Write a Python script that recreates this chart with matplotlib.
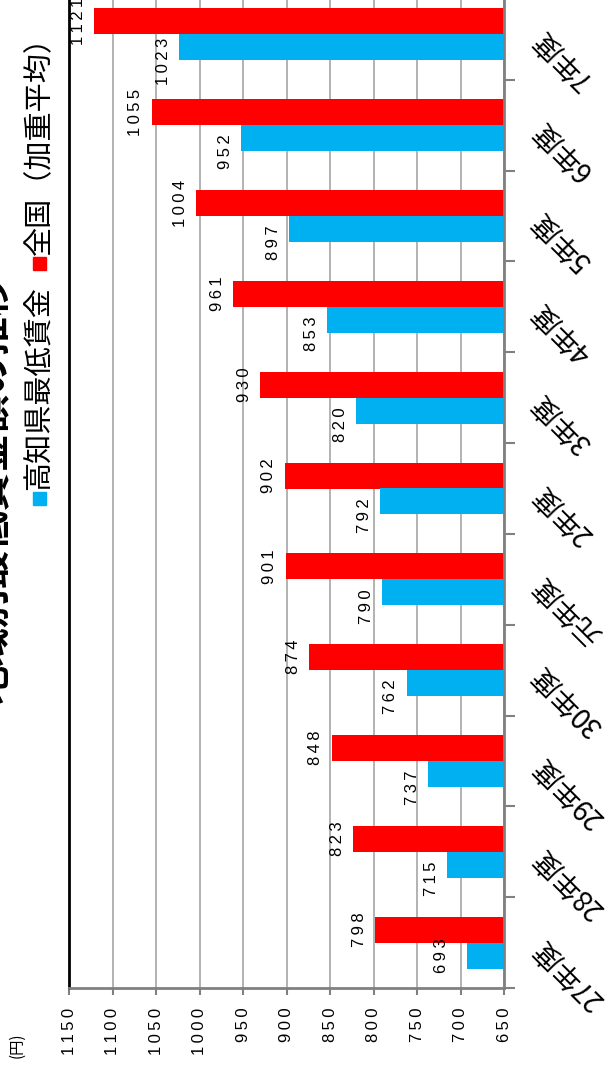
import matplotlib.pyplot as plt
from matplotlib.patches import Rectangle

plt.rcParams['font.family'] = ['Liberation Sans', 'Noto Sans CJK JP', 'DejaVu Sans']

# data
cats = ['27年度', '28年度', '29年度', '30年度', '元年度', '2年度', '3年度', '4年度', '5年度', '6年度', '7年度']
kochi = [693, 715, 737, 762, 790, 792, 820, 853, 897, 952, 1023]
zenkoku = [798, 823, 848, 874, 901, 902, 930, 961, 1004, 1055, 1121]
ticks = [650, 700, 750, 800, 850, 900, 950, 1000, 1050, 1100, 1150]
series_names = ['高知県最低賃金', '全国（加重平均）']
title = '地域別最低賃金額の推移'

RED = '#ff0000'
BLUE = '#00b0f0'
W, H = 612, 1076

def spaced(n):
    return '\u2009'.join(str(n))

fig = plt.figure(figsize=(W / 100, H / 100), dpi=100)
ax = fig.add_axes([69 / W, (H - 988) / H, (504 - 69) / W, (988 + 11) / H])

pos = list(range(len(cats)))
bh = 0.286
ax.barh([p + bh / 2 for p in pos], [v - 650 for v in zenkoku], left=650, height=bh, color=RED, zorder=2)
ax.barh([p - bh / 2 for p in pos], [v - 650 for v in kochi], left=650, height=bh, color=BLUE, zorder=2)

ax.set_xlim(1150, 650)
ax.set_ylim(-0.5, len(cats) - 0.5)
ax.set_xticks(ticks)
ax.set_xticklabels([spaced(t) for t in ticks], rotation=90, fontsize=12)
ax.tick_params(axis='x', length=5, width=1.5, color='#808080', pad=9)
ax.xaxis.grid(True, color='#a6a6a6', lw=1.2)
ax.set_axisbelow(True)

# category labels on the right side
ax.yaxis.tick_right()
ax.set_yticks(pos)
ax.set_yticks([p + 0.5 for p in pos[:-1]] + [-0.5], minor=True)
ax.set_yticklabels(cats, fontsize=20, family=['Noto Sans CJK JP', 'DejaVu Sans'])
for lab in ax.get_yticklabels():
    lab.set_rotation(135)
    lab.set_rotation_mode('anchor')
    lab.set_ha('right')
    lab.set_va('center')
ax.tick_params(axis='y', which='major', length=0, pad=24)
ax.tick_params(axis='y', which='minor', length=8, width=1.5, color='#808080', right=True, left=False)

ax.spines['top'].set_visible(False)
ax.spines['left'].set_color('black')
ax.spines['left'].set_linewidth(2)
ax.spines['bottom'].set_color('#808080')
ax.spines['bottom'].set_linewidth(2)
ax.spines['right'].set_color('#808080')
ax.spines['right'].set_linewidth(2)

# value labels
for p, v in zip(pos, zenkoku):
    ax.annotate(spaced(v), (v, p + bh / 2), xytext=(-6, 0), textcoords='offset points',
                rotation=90, ha='right', va='center', fontsize=12)
for p, v in zip(pos, kochi):
    dx, dy = (-13, 0) if p == 0 else (-6, -10)
    ax.annotate(spaced(v), (v, p - bh / 2), xytext=(dx, dy), textcoords='offset points',
                rotation=90, ha='right', va='center', fontsize=12)

# legend drawn vertically
cjk = ['Noto Sans CJK JP', 'DejaVu Sans']
fig.add_artist(Rectangle((33 / W, (H - 505) / H), 13 / W, 13 / H, color=BLUE, transform=fig.transFigure))
fig.text(40 / W, (H - 490) / H, series_names[0], rotation=90, rotation_mode='anchor',
         ha='left', va='center', fontsize=21, family=cjk)
fig.add_artist(Rectangle((33 / W, (H - 270) / H), 13 / W, 13 / H, color=RED, transform=fig.transFigure))
fig.text(40 / W, (H - 255) / H, series_names[1], rotation=90, rotation_mode='anchor',
         ha='left', va='center', fontsize=21, family=cjk)

fig.text(17 / W, (H - 1045) / H, '(円)', rotation=90, ha='center', va='center', fontsize=11, family=cjk)
fig.text(-6 / W, (H - 490) / H, title, rotation=90, ha='center', va='center', fontsize=28,
         fontweight='bold', family=cjk)

fig.savefig('out.png', dpi=100)
